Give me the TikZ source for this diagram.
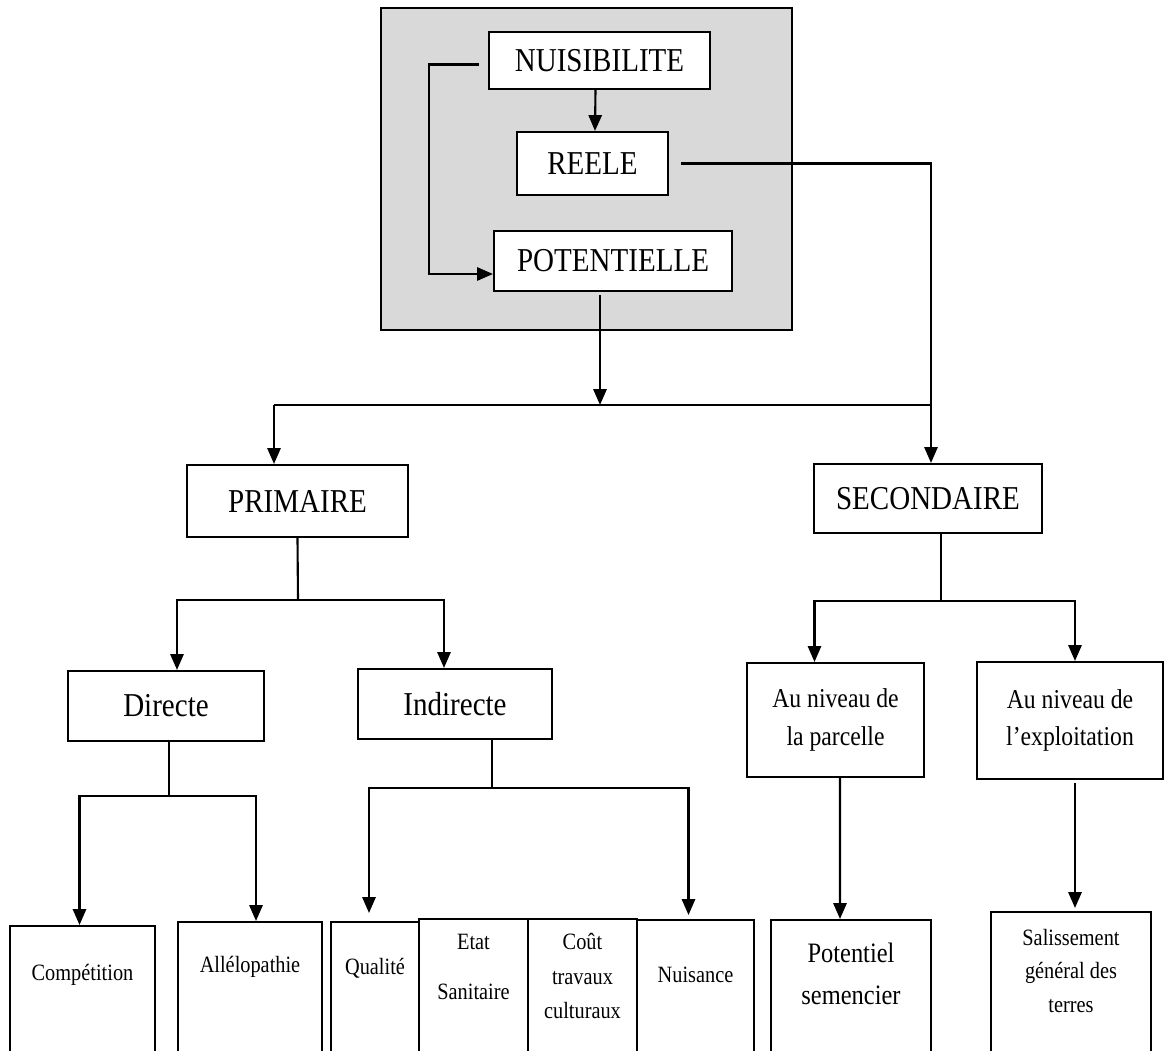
\documentclass[tikz,border=0pt]{standalone}
\usepackage{fontspec}
\setmainfont{Liberation Serif}[FakeStretch=0.87]
\usetikzlibrary{arrows.meta,calc}
\definecolor{panelgrey}{RGB}{217,217,217}
\newcommand\fsbig{\fontsize{19}{22}\selectfont}
\newcommand\fsmed{\fontsize{15.5}{21.5}\selectfont}
\newcommand\fsleaf{\fontsize{13.3}{20}\selectfont}

\begin{document}
\begin{tikzpicture}[x=0.02cm,y=-0.02cm,line width=1.2pt,
	box/.style={draw,fill=white,inner sep=0pt,align=center,font=\fsbig},
	leaf/.style={draw,fill=white,inner sep=0pt,anchor=north,minimum height=3cm},
	leaftext/.style={anchor=center,align=center,font=\fsleaf,inner sep=0pt},
	arr/.style={-{Triangle[length=9pt,width=7.5pt]}}]
		\useasboundingbox (0,0) rectangle (1171,1051);
		\clip (0,0) rectangle (1171,1051);
		% grey panel
		\draw[fill=panelgrey] (381,8) rectangle (792,330);
		\node[box,minimum width=4.42cm,minimum height=1.14cm] (nuis) at (599.5,60.5) {NUISIBILITE};
		\node[box,minimum width=3.02cm,minimum height=1.26cm] (reele) at (592.5,163.5) {REELE};
		\node[box,minimum width=4.76cm,minimum height=1.2cm] (pot) at (613,261) {POTENTIELLE};
		% second level
		\node[box,minimum width=4.42cm,minimum height=1.44cm] (prim) at (297.5,501) {PRIMAIRE};
		\node[box,minimum width=4.56cm,minimum height=1.38cm] (sec) at (928,498.5) {SECONDAIRE};
		\node[box,minimum width=3.92cm,minimum height=1.4cm] (dir) at (166,706) {Directe};
		\node[box,minimum width=3.88cm,minimum height=1.4cm] (ind) at (455,704) {Indirecte};
		\node[box,font=\fsmed,minimum width=3.54cm,minimum height=2.28cm] (parc) at (835.5,720) {Au niveau de\\la parcelle};
		\node[box,font=\fsmed,minimum width=3.72cm,minimum height=2.34cm] (expl) at (1070,720.5) {Au niveau de\\l’exploitation};
		% leaves
		\node[leaf,minimum width=2.9cm,label={[leaftext,yshift=-1cm]north:Compétition}] (comp) at (82.5,925) {};
		\node[leaf,minimum width=2.88cm,label={[leaftext,yshift=-0.92cm]north:Allélopathie}] (alle) at (250,921) {};
		\node[leaf,minimum width=1.76cm,label={[leaftext,yshift=-0.94cm]north:Qualité}] (qual) at (375,921) {};
		\node[leaf,minimum width=2.18cm,label={[leaftext,font=\fontsize{13.3}{28}\selectfont,yshift=-0.98cm]north:Etat\\Sanitaire}] (etat) at (473.5,918) {};
		\node[leaf,minimum width=2.18cm,label={[leaftext,font=\fontsize{13.3}{19.5}\selectfont,yshift=-1.16cm]north:Coût\\travaux\\culturaux}] (cout) at (582.5,918) {};
		\node[leaf,minimum width=2.34cm,label={[leaftext,yshift=-1.12cm]north:Nuisance}] (nuisance) at (695.5,919) {};
		\node[leaf,minimum width=3.2cm,label={[leaftext,font=\fontsize{16}{24}\selectfont,yshift=-1.1cm]north:Potentiel\\semencier}] (potsem) at (851,919) {};
		\node[leaf,minimum width=3.2cm,label={[leaftext,font=\fontsize{13.3}{19}\selectfont,yshift=-1.2cm]north:Salissement\\général des\\terres}] (sal) at (1071,911) {};
		% connectors in the panel
		\draw[arr] ($(nuis.south)+(-4,0)$) -- ($(reele.north)+(2.5,0)$);
		\draw[arr] ($(nuis.west)+(-9,4)$) -- ++(-50,0) |- ($(pot.west)+(0,13)$);
		\draw[arr] ($(reele.east)+(12,0)$) -| ($(sec.north)+(3,0)$);
		\coordinate (split) at (600,405);
		\coordinate (busL) at (274,405);
		\draw[arr] ($(pot.south)+(-13,3)$) -- (split);
		\draw (busL) -- (931,405);
		\draw[arr] (busL) -- (busL |- prim.north);
		% primaire
		\coordinate (primbus) at (298,600);
		\draw (prim.south) -- (primbus);
		\draw[arr] (primbus) -| ($(dir.north)+(11,0)$);
		\draw[arr] (primbus) -| ($(ind.north)+(-11,0)$);
		\coordinate (dirbus) at (169,796);
		\draw ($(dir.south)+(3,0)$) -- (dirbus);
		\draw[arr] (dirbus) -| ($(comp.north)+(-3,0)$);
		\draw[arr] (dirbus) -| ($(alle.north)+(6,0)$);
		\coordinate (indbus) at (492,788);
		\draw ($(ind.south)+(37,0)$) -- (indbus);
		\draw[arr] (indbus) -| ($(qual.north)+(-6,-8)$);
		\draw[arr] (indbus) -| ($(nuisance.north)+(-7,-4)$);
		% secondaire
		\coordinate (secbus) at (941,601);
		\draw ($(sec.south)+(13,0)$) -- (secbus);
		\draw[arr] (secbus) -| ($(parc.north)+(-21,0)$);
		\draw[arr] (secbus) -| ($(expl.north)+(5,0)$);
		\draw[arr] ($(parc.south)+(4.5,0)$) -- ($(potsem.north)+(-11,0)$);
		\draw[arr] ($(expl.south)+(5,3)$) -- ($(sal.north)+(4,-3)$);
	\end{tikzpicture}
\end{document}
